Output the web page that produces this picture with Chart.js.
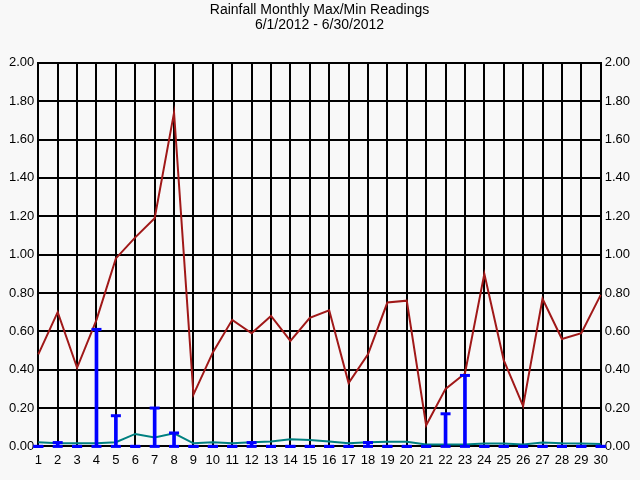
<!DOCTYPE html>
<html>
<head>
<meta charset="utf-8">
<script src="https://cdn.jsdelivr.net/npm/chart.js@4.4.0/dist/chart.umd.min.js"></script>
<style>
  html, body { margin: 0; padding: 0; background: #f8f8f8; }
  #wrap { width: 640px; height: 480px; }
</style>
</head>
<body>
<div id="wrap"><canvas id="graficoChuva" width="640" height="480"></canvas></div>
<script>
// dias do mes
const dias = ['1','2','3','4','5','6','7','8','9','10','11','12','13','14','15',
              '16','17','18','19','20','21','22','23','24','25','26','27','28','29','30'];
// leituras maximas (vermelho)
const leiturasMax = [0.48, 0.70, 0.41, 0.66, 0.98, 1.09, 1.19, 1.74, 0.27, 0.49,
                     0.66, 0.59, 0.68, 0.55, 0.67, 0.71, 0.33, 0.48, 0.75, 0.76,
                     0.11, 0.30, 0.38, 0.90, 0.45, 0.21, 0.77, 0.56, 0.59, 0.79];
// leituras minimas (verde)
const leiturasMin = [0.022, 0.016, 0.016, 0.016, 0.022, 0.065, 0.047, 0.068, 0.016, 0.022,
                     0.016, 0.022, 0.025, 0.037, 0.033, 0.026, 0.016, 0.022, 0.024, 0.024,
                     0.010, 0.010, 0.010, 0.015, 0.015, 0.010, 0.020, 0.016, 0.015, 0.012];
// chuva diaria (azul)
const chuva = [0, 0.02, 0, 0.61, 0.16, 0, 0.20, 0.07, 0, 0,
               0, 0.02, 0, 0, 0, 0, 0, 0.02, 0, 0,
               0, 0.17, 0.37, 0, 0, 0, 0, 0, 0, 0];
const zeros = dias.map(() => 0);

Chart.defaults.font.family = "'Liberation Sans', Arial, sans-serif";
Chart.defaults.color = '#000';

const ctx = document.getElementById('graficoChuva').getContext('2d');
new Chart(ctx, {
    type: 'bar',
    data: {
        labels: dias,
        datasets: [{
            type: 'bar',
            label: 'Chuva',
            data: chuva,
            backgroundColor: '#0000ff',
            barThickness: 3,
            order: 1
        }, {
            type: 'line',
            label: 'topo',
            data: chuva,
            showLine: false,
            pointStyle: 'line',
            pointRadius: 5,
            pointBorderWidth: 3,
            pointBorderColor: '#0000ff',
            clip: false,
            order: 0
        }, {
            type: 'line',
            label: 'base',
            data: zeros,
            showLine: false,
            pointStyle: 'line',
            pointRadius: 5,
            pointBorderWidth: 3,
            pointBorderColor: '#0000ff',
            clip: false,
            order: 0
        }, {
            type: 'line',
            label: 'Max',
            data: leiturasMax,
            borderColor: '#a01818',
            borderWidth: 2,
            pointRadius: 0,
            tension: 0,
            order: 3
        }, {
            type: 'line',
            label: 'Min',
            data: leiturasMin,
            borderColor: '#008080',
            borderWidth: 2,
            pointRadius: 0,
            tension: 0,
            order: 2
        }]
    },
    options: {
        responsive: false,
        animation: false,
        layout: { padding: { left: 5, right: 6, top: 2, bottom: 6 } },
        plugins: {
            legend: { display: false },
            tooltip: { enabled: false },
            title: {
                display: true,
                text: ['Rainfall Monthly Max/Min Readings', '6/1/2012 - 6/30/2012'],
                color: '#000',
                font: { size: 14, weight: 'normal', lineHeight: 1.1 },
                padding: { top: 0, bottom: 30 }
            }
        },
        scales: {
            x: {
                offset: false,
                grid: { color: '#000', lineWidth: 2, offset: false, drawTicks: false },
                border: { color: '#000', width: 2 },
                ticks: { color: '#000', font: { size: 13 }, padding: 6, maxRotation: 0, autoSkip: false }
            },
            y: {
                position: 'left',
                min: 0, max: 2,
                grid: { color: '#000', lineWidth: 2, drawTicks: false },
                border: { color: '#000', width: 2 },
                ticks: { stepSize: 0.2, color: '#000', font: { size: 13 }, padding: 4,
                         callback: value => value.toFixed(2) }
            },
            y2: {
                position: 'right',
                min: 0, max: 2,
                grid: { display: false, drawTicks: false },
                border: { color: '#000', width: 2 },
                ticks: { stepSize: 0.2, color: '#000', font: { size: 13 }, padding: 4,
                         callback: value => value.toFixed(2) }
            }
        }
    }
});
</script>
</body>
</html>
